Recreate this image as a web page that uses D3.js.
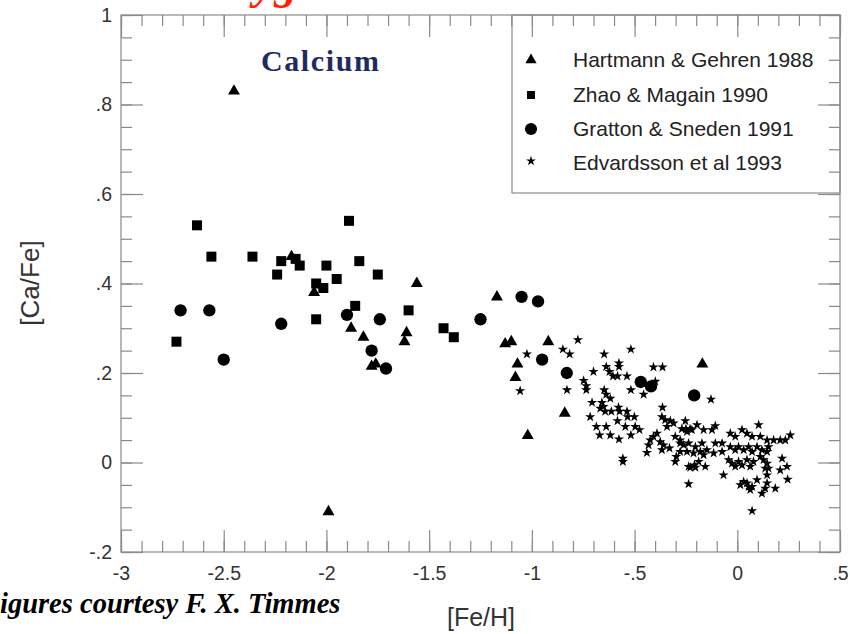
<!DOCTYPE html>
<html><head><meta charset="utf-8">
<script src="https://cdnjs.cloudflare.com/ajax/libs/d3/7.8.5/d3.min.js"></script>
<style>html,body{margin:0;padding:0;background:#fff;overflow:hidden}</style>
</head><body>
<svg id="c" width="850" height="634"></svg>
<script>
// ---- data ----
const seriesNames = ["Hartmann & Gehren 1988","Zhao & Magain 1990","Gratton & Sneden 1991","Edvardsson et al 1993"];
const hartmann = [[-2.45,0.83],[-1.99,-0.11],[-2.17,0.46],[-2.06,0.38],[-1.56,0.40],[-1.88,0.30],[-1.82,0.28],[-1.61,0.29],[-1.62,0.27],[-1.76,0.22],[-1.78,0.215],[-1.17,0.37],[-1.13,0.265],[-1.10,0.27],[-0.92,0.27],[-1.07,0.22],[-1.08,0.19],[-1.02,0.06],[-0.84,0.11],[-0.17,0.22]];
const zhao = [[-2.73,0.27],[-2.63,0.53],[-2.56,0.46],[-2.36,0.46],[-2.22,0.45],[-2.24,0.42],[-2.15,0.455],[-2.13,0.44],[-2.00,0.44],[-2.05,0.40],[-2.015,0.39],[-2.05,0.32],[-1.89,0.54],[-1.84,0.45],[-1.95,0.41],[-1.75,0.42],[-1.86,0.35],[-1.60,0.34],[-1.43,0.30],[-1.38,0.28]];
const gratton = [[-2.71,0.34],[-2.57,0.34],[-2.50,0.23],[-2.22,0.31],[-1.90,0.33],[-1.74,0.32],[-1.78,0.25],[-1.71,0.21],[-1.25,0.32],[-1.05,0.37],[-0.97,0.36],[-0.95,0.23],[-0.83,0.20],[-0.47,0.18],[-0.42,0.17],[-0.21,0.15]];
const edvardsson = [[-1.024,0.242],[-1.057,0.160],
[-0.776,0.274],[-0.849,0.253],[-0.816,0.242],[-0.648,0.242],[-0.518,0.253],[-0.829,0.162],[-0.700,0.203],
[-0.748,0.183],[-0.735,0.171],[-0.735,0.162],[-0.638,0.214],[-0.622,0.203],[-0.576,0.222],[-0.576,0.214],
[-0.605,0.193],[-0.583,0.193],[-0.537,0.193],[-0.408,0.213],[-0.364,0.213],[-0.399,0.181],[-0.518,0.162],[-0.456,0.152],
[-0.648,0.162],[-0.638,0.152],[-0.618,0.143],[-0.707,0.134],[-0.659,0.134],[-0.651,0.125],
[-0.667,0.121],[-0.643,0.114],[-0.613,0.114],[-0.578,0.123],[-0.573,0.114],[-0.716,0.102],[-0.583,0.093],
[-0.537,0.114],[-0.534,0.102],[-0.501,0.102],[-0.686,0.080],[-0.638,0.080],[-0.545,0.080],[-0.497,0.080],[-0.476,0.073],
[-0.670,0.061],[-0.618,0.061],[-0.576,0.052],[-0.518,0.061],[-0.557,0.009],[-0.557,0.002],
[-0.364,0.123],[-0.367,0.102],[-0.351,0.095],[-0.326,0.093],[-0.310,0.088],[-0.342,0.080],
[-0.391,0.065],[-0.408,0.058],[-0.424,0.050],[-0.432,0.039],[-0.440,0.022],
[-0.375,0.046],[-0.359,0.039],[-0.330,0.032],[-0.367,0.028],
[-0.302,0.058],[-0.278,0.050],[-0.245,0.069],[-0.221,0.073],[-0.261,0.039],
[-0.204,0.035],[-0.297,0.013],[-0.302,0.002],[-0.278,0.024],[-0.237,-0.009],[-0.209,-0.006],[-0.237,-0.048],
[-0.27,0.075],[-0.25,0.075],[-0.23,0.075],[-0.253,0.093],
[-0.128,0.141],[-0.196,0.084],[-0.164,0.073],[-0.123,0.073],[-0.107,0.082],
[-0.278,0.043],[-0.237,0.043],[-0.172,0.043],[-0.148,0.028],[-0.107,0.043],[-0.074,0.043],[-0.245,0.024],[-0.213,0.021],[-0.180,0.024],[-0.164,0.017],[-0.115,0.021],[-0.074,0.024],
[-0.229,-0.011],[-0.204,-0.011],[-0.156,-0.009],[-0.188,0.002],[-0.067,-0.028],
[-0.034,0.065],[-0.010,0.058],[0.023,0.073],[0.047,0.065],[0.072,0.058],[0.104,0.084],[0.112,0.058],[0.145,0.050],[0.177,0.050],[0.209,0.050],[0.234,0.050],[0.258,0.061],
[-0.034,0.035],[-0.010,0.028],[0.006,0.035],[0.031,0.028],[0.055,0.035],[0.072,0.024],[0.096,0.035],[0.120,0.028],[0.145,0.024],[0.152,0.035],[0.112,0.013],[0.128,0.006],[0.145,-0.002],[0.136,-0.013],[0.145,-0.028],[0.152,-0.013],
[-0.042,0.006],[-0.026,-0.002],[-0.010,-0.009],[0.006,0.002],[0.023,-0.006],[0.047,0.006],[0.063,-0.009],[0.079,0.002],
[0.015,-0.050],[0.031,-0.043],[0.047,-0.046],[0.055,-0.054],[0.063,-0.061],[0.072,-0.054],[0.096,-0.039],[0.145,-0.046],[0.136,-0.058],[0.185,-0.058],[0.120,-0.069],
[0.218,0.009],[0.242,-0.009],[0.209,-0.017],[0.245,-0.038],[0.072,-0.108]];
const xTicks = [-3,-2.5,-2,-1.5,-1,-0.5,0,0.5];
const xTickLabels = ["-3","-2.5","-2","-1.5","-1","-.5","0",".5"];
const yTicks = [-0.2,0,0.2,0.4,0.6,0.8,1];
const yTickLabels = ["-.2","0",".2",".4",".6",".8","1"];
const xMinor = d3.range(-30,6).map(d=>d/10);
const yMinor = d3.range(-4,21).map(d=>d/20);

// ---- layout ----
const L=121, R=840, T=15, B=552;
const svg = d3.select("#c");
const x = d3.scaleLinear().domain([-3,0.5]).range([L,R]);
const y = d3.scaleLinear().domain([-0.2,1]).range([B,T]);
const axisColor = "#8a8a8a";
const MAJ=22, MIN=11;

function styleAxis(g){
  g.select(".domain").remove();
  g.selectAll(".tick line").attr("stroke",axisColor).attr("stroke-width",1.2);
  g.selectAll(".tick text").attr("fill","#333").attr("font-family","Liberation Sans, Arial, sans-serif").attr("font-size",19.5);
}
// bottom
svg.append("g").attr("transform",`translate(0,${B})`)
  .call(d3.axisBottom(x).tickValues(xMinor).tickSize(-MIN).tickFormat(""))
  .call(styleAxis);
svg.append("g").attr("transform",`translate(0,${B})`)
  .call(d3.axisBottom(x).tickValues(xTicks).tickSize(-MAJ).tickPadding(14).tickFormat((d,i)=>xTickLabels[i]))
  .call(styleAxis);
// top
svg.append("g").attr("transform",`translate(0,${T})`)
  .call(d3.axisTop(x).tickValues(xMinor).tickSize(-MIN).tickFormat(""))
  .call(styleAxis);
svg.append("g").attr("transform",`translate(0,${T})`)
  .call(d3.axisTop(x).tickValues(xTicks).tickSize(-MAJ).tickFormat(""))
  .call(styleAxis);
// left
svg.append("g").attr("transform",`translate(${L},0)`)
  .call(d3.axisLeft(y).tickValues(yMinor).tickSize(-MIN).tickFormat(""))
  .call(styleAxis);
svg.append("g").attr("transform",`translate(${L},0)`)
  .call(d3.axisLeft(y).tickValues(yTicks).tickSize(-MAJ).tickPadding(9).tickFormat((d,i)=>yTickLabels[i]))
  .call(styleAxis);
// right
svg.append("g").attr("transform",`translate(${R},0)`)
  .call(d3.axisRight(y).tickValues(yMinor).tickSize(-MIN).tickFormat(""))
  .call(styleAxis);
svg.append("g").attr("transform",`translate(${R},0)`)
  .call(d3.axisRight(y).tickValues(yTicks).tickSize(-MAJ).tickFormat(""))
  .call(styleAxis);
// frame
svg.append("rect").attr("x",L).attr("y",T).attr("width",R-L).attr("height",B-T)
  .attr("fill","none").attr("stroke",axisColor).attr("stroke-width",1.2);

// legend box
svg.append("rect").attr("x",512).attr("y",T).attr("width",R-512).attr("height",193-T)
  .attr("fill","none").attr("stroke",axisColor).attr("stroke-width",1.2);

const shapes = [
  {data:hartmann, type:d3.symbolTriangle, size:62, lsize:55},
  {data:zhao, type:d3.symbolSquare, size:100, lsize:64},
  {data:gratton, type:d3.symbolCircle, size:120, lsize:115},
  {data:edvardsson, type:d3.symbolStar, size:32, lsize:30}
];
shapes.forEach(s=>{
  svg.append("g").selectAll("path").data(s.data).join("path")
    .attr("transform",d=>`translate(${x(d[0])},${y(d[1])})`)
    .attr("d",d3.symbol().type(s.type).size(s.size))
    .attr("fill","#000");
});
// legend entries
const legRows = [62,97,131,165];
shapes.forEach((s,i)=>{
  svg.append("path").attr("transform",`translate(531,${legRows[i]-(i==3?4:2)})`)
    .attr("d",d3.symbol().type(s.type).size(s.lsize)).attr("fill","#000");
  svg.append("text").attr("x",573).attr("y",legRows[i]+5).text(seriesNames[i])
    .attr("font-family","Liberation Sans, Arial, sans-serif").attr("font-size",21).attr("fill","#222");
});

// Calcium label
svg.append("text").attr("x",261).attr("y",71).text("Calcium")
  .attr("font-family","Liberation Serif, Times New Roman, serif").attr("font-weight","bold")
  .attr("font-size",30).attr("letter-spacing",1.6).attr("fill","#1f2b5e");

// axis titles
svg.append("text").attr("x",481).attr("y",626).attr("text-anchor","middle").text("[Fe/H]")
  .attr("font-family","Liberation Sans, Arial, sans-serif").attr("font-size",25).attr("fill","#333");
svg.append("text").attr("transform","translate(39,283) rotate(-90)").attr("text-anchor","middle").text("[Ca/Fe]")
  .attr("font-family","Liberation Sans, Arial, sans-serif").attr("font-size",26).attr("fill","#333");

// partial slide text
svg.append("text").attr("x",-19).attr("y",613).text("Figures courtesy F. X. Timmes")
  .attr("font-family","Liberation Serif, Times New Roman, serif").attr("font-weight","bold").attr("font-style","italic")
  .attr("font-size",28.5).attr("fill","#000");
svg.append("text").attr("x",254).attr("y",-2).text("yg")
  .attr("font-family","Liberation Serif, Times New Roman, serif").attr("font-weight","bold").attr("font-style","italic")
  .attr("font-size",46).attr("fill","#ff2200");
</script>
</body></html>
